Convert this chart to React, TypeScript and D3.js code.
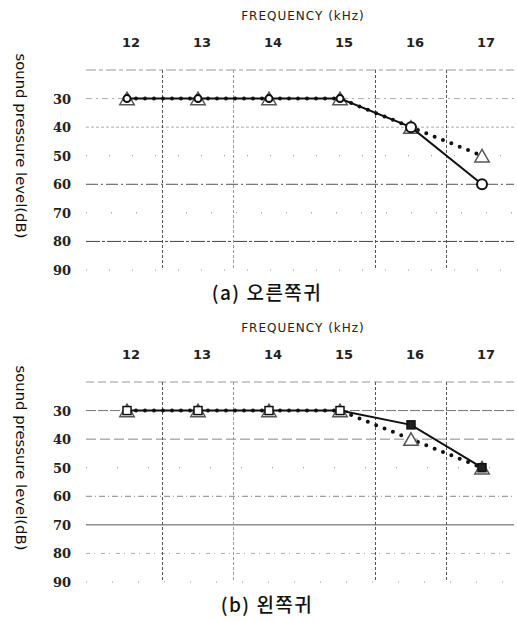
import React from "react";
import * as d3 from "d3";

// frequencies (kHz) and dB ticks
const freqs = ["12", "13", "14", "15", "16", "17"];
const dbTicks = [30, 40, 50, 60, 70, 80, 90];
const gridLevels = [20, 30, 40, 50, 60, 70, 80, 90];

// (a) right ear
const rightSolid = [30, 30, 30, 30, 40, 60];
const rightDotted = [30, 30, 30, 30, 40, 50];
// (b) left ear
const leftSolid = [30, 30, 30, 30, 35, 50];
const leftDotted = [30, 30, 30, 30, 40, 50];

const captions = ["(a) 오른쪽귀", "(b) 왼쪽귀"];

const W = 517;
const H = 621;
const left = 86;
const right = 514;
const top = 70;
const bottom = 270;
const panelGap = 312;

// horizontal grid styles, one per gridLevels entry
const gridStylesA = [
  { c: "#999", d: "10 3 4 3" },
  { c: "#aaa", d: "6 4 2 4" },
  { c: "#aaa", d: "3 2" },
  { c: "#888", d: "1 22" },
  { c: "#555", d: "12 3 2 3" },
  { c: "#888", d: "1 24" },
  { c: "#444", d: "14 2 3 2" },
  { c: "#999", d: "1 22" },
];
const gridStylesB = [
  { c: "#999", d: "8 4" },
  { c: "#777", d: "10 2" },
  { c: "#888", d: "10 4" },
  { c: "#888", d: "1 30" },
  { c: "#888", d: "6 3 1 3" },
  { c: "#555", d: "" },
  { c: "#aaa", d: "4 4 1 6" },
  { c: "#999", d: "1 25" },
];

const x = d3.scalePoint<string>().domain(freqs).range([127, 482]);
const y = d3.scaleLinear().domain([20, 90]).range([top, bottom]);
const line = d3
  .line<number>()
  .x((_, i) => x(freqs[i]) as number)
  .y((d) => y(d));
const tri = d3.symbol(d3.symbolTriangle, 90)();

// vertical separators between categories (not between 14 and 15)
const step = x.step();
const vLines = [0, 1, 3, 4].map((i) => (x(freqs[i]) as number) + step / 2);

function Panel({ idx, solid, dotted, grid, marker }) {
  return (
    <g transform={`translate(0,${idx * panelGap})`}>
      <text
        x={303}
        y={20}
        textAnchor="middle"
        fontFamily="DejaVu Sans"
        fontSize={12}
        letterSpacing={1}
        fill="#222"
      >
        FREQUENCY (kHz)
      </text>
      {freqs.map((f) => (
        <text
          key={f}
          x={(x(f) as number) + 4}
          y={47}
          textAnchor="middle"
          fontFamily="DejaVu Sans"
          fontWeight="bold"
          fontSize={13}
          fill="#222"
        >
          {f}
        </text>
      ))}
      {gridLevels.map((v, i) => (
        <line
          key={v}
          x1={left}
          x2={right}
          y1={y(v)}
          y2={y(v)}
          stroke={grid[i].c}
          strokeWidth={1}
          strokeDasharray={grid[i].d}
        />
      ))}
      {vLines.map((vx, i) => (
        <line
          key={i}
          x1={vx}
          x2={vx}
          y1={top}
          y2={bottom - 2}
          stroke={i === 1 ? "#999" : "#555"}
          strokeWidth={1}
          strokeDasharray="3 2"
        />
      ))}
      {dbTicks.map((t) => (
        <text
          key={t}
          x={71}
          y={y(t) + 5}
          textAnchor="end"
          fontFamily="DejaVu Serif"
          fontWeight="bold"
          fontSize={13}
          fill="#222"
        >
          {t}
        </text>
      ))}
      <text
        transform={`translate(16,146) rotate(90)`}
        textAnchor="middle"
        fontFamily="DejaVu Sans"
        fontSize={14}
        textLength={185}
        lengthAdjust="spacingAndGlyphs"
        fill="#111"
      >
        sound pressure level(dB)
      </text>
      <path
        d={line(dotted) || ""}
        fill="none"
        stroke="#111"
        strokeWidth={4}
        strokeLinecap="round"
        strokeDasharray="0 9"
      />
      {dotted.map((v, i) => (
        <path
          key={i}
          d={tri || ""}
          transform={`translate(${x(freqs[i])},${y(v) + 2})`}
          fill="#fff"
          stroke="#555"
          strokeWidth={1.5}
        />
      ))}
      <path d={line(solid) || ""} fill="none" stroke="#111" strokeWidth={2} />
      {solid.map((v, i) =>
        marker === "circle" ? (
          <circle
            key={i}
            cx={x(freqs[i])}
            cy={y(v)}
            r={i < 4 ? 3.5 : 5}
            fill="#fff"
            stroke="#111"
            strokeWidth={2}
          />
        ) : (
          <rect
            key={i}
            x={(x(freqs[i]) as number) - 4}
            y={y(v) - 4}
            width={8}
            height={8}
            fill={i < 4 ? "#fff" : "#222"}
            stroke="#111"
            strokeWidth={1.5}
          />
        )
      )}
      <text
        x={267}
        y={300}
        textAnchor="middle"
        fontFamily="Noto Sans CJK KR"
        fontWeight={500}
        fontSize={19}
        letterSpacing={1.5}
        fill="#111"
      >
        {captions[idx]}
      </text>
    </g>
  );
}

export default function App() {
  return (
    <svg
      width={W}
      height={H}
      style={{ position: "absolute", left: 0, top: 0, background: "#fff" }}
    >
      <Panel idx={0} solid={rightSolid} dotted={rightDotted} grid={gridStylesA} marker="circle" />
      <Panel idx={1} solid={leftSolid} dotted={leftDotted} grid={gridStylesB} marker="square" />
    </svg>
  );
}
